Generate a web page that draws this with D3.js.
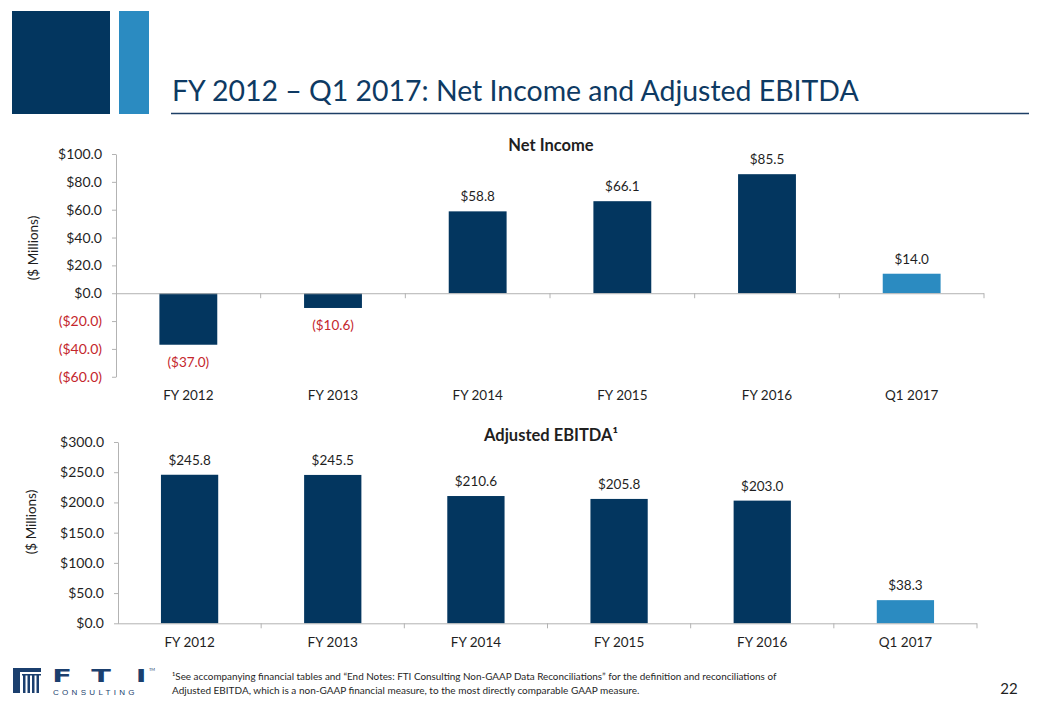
<!DOCTYPE html>
<html><head><meta charset="utf-8">
<script src="https://cdn.jsdelivr.net/npm/d3@7"></script>
<style>
html,body{margin:0;padding:0;background:#fff;}
svg{display:block;font-family:Lato,"Open Sans",sans-serif;}
</style></head>
<body>
<svg id="c" width="1040" height="720"></svg>
<script>
const categories = ["FY 2012","FY 2013","FY 2014","FY 2015","FY 2016","Q1 2017"];
const netIncome = [-37.0,-10.6,58.8,66.1,85.5,14.0];
const ebitda = [245.8,245.5,210.6,205.8,203.0,38.3];
const niTicks = [-60,-40,-20,0,20,40,60,80,100];
const ebitdaTicks = [0,50,100,150,200,250,300];
const highlightCategory = "Q1 2017";
const titleText = "FY 2012 \u2013 Q1 2017: Net Income and Adjusted EBITDA";
const footnoteLines = [
  "\u00b9See accompanying  financial tables and \u201cEnd Notes: FTI Consulting Non-GAAP Data Reconciliations\u201d for the definition and reconciliations of",
  "Adjusted EBITDA, which is a non-GAAP financial measure, to the most directly comparable GAAP measure."
];

const NAVY = "#03365f", LIGHT = "#2b8bc1", RED = "#c4262c", TXT = "#1f1f1f", AXIS = "#b3b3b3";
const svg = d3.select("#c");

function fitWidth(sel, w){
  const cur = parseFloat(sel.attr("font-size"));
  const len = sel.node().getComputedTextLength();
  sel.attr("font-size", cur * w / len);
}

// Header blocks
svg.append("rect").attr("x",12).attr("y",11).attr("width",98).attr("height",103).attr("fill",NAVY);
svg.append("rect").attr("x",119).attr("y",11).attr("width",30).attr("height",103).attr("fill",LIGHT);
const t = svg.append("text").attr("x",172).attr("y",101).attr("font-size",29).attr("fill","#0e3a63").text(titleText);
fitWidth(t, 687);
svg.append("line").attr("x1",171).attr("x2",1029).attr("y1",113.5).attr("y2",113.5).attr("stroke","#1d3f66").attr("stroke-width",1.6);

function fmt(v){
  const s = "$" + Math.abs(v).toFixed(1);
  return v < 0 ? "(" + s + ")" : s;
}

function drawChart(opt){
  const x = d3.scaleBand().domain(categories).range(opt.xRange).paddingInner(0.6).paddingOuter(0.3);
  const y = d3.scaleLinear().domain(opt.domain).range(opt.yRange);
  const g = svg.append("g");
  g.append("text").attr("x",551).attr("y",opt.titleY).attr("text-anchor","middle")
    .attr("font-size",16.5).attr("font-weight","bold").attr("fill",TXT).text(opt.title);
  const ya = g.append("g").attr("transform",`translate(${opt.xRange[0]},0)`)
    .call(d3.axisLeft(y).tickValues(opt.ticks).tickSize(4).tickSizeOuter(0).tickPadding(10).tickFormat(fmt));
  ya.select(".domain").attr("stroke",AXIS);
  ya.selectAll(".tick line").attr("stroke",AXIS);
  ya.selectAll(".tick text").attr("font-size",14).attr("font-family","Lato")
    .attr("fill", d => d < 0 ? RED : TXT);
  g.append("text").attr("transform",`translate(${opt.yLabelX},${opt.yLabelY}) rotate(-90)`)
    .attr("text-anchor","middle").attr("font-size",13.5).attr("fill",TXT).text("($ Millions)");
  const data = categories.map((c,i)=>({c, v: opt.values[i]}));
  g.selectAll("rect.bar").data(data).join("rect").attr("class","bar")
    .attr("x", d => x(d.c)).attr("width", x.bandwidth())
    .attr("y", d => y(Math.max(0,d.v))).attr("height", d => Math.abs(y(d.v)-y(0)))
    .attr("fill", d => d.c === highlightCategory ? LIGHT : NAVY);
  const y0 = y(0);
  g.append("line").attr("x1",opt.xRange[0]).attr("x2",opt.xRange[1]).attr("y1",y0+0.5).attr("y2",y0+0.5).attr("stroke",AXIS);
  const bounds = categories.map(c => x(c) - x.step()*x.paddingInner()/2).concat([opt.xRange[1]]);
  g.selectAll("line.xt").data(bounds.slice(1)).join("line").attr("class","xt")
    .attr("x1",d=>d).attr("x2",d=>d).attr("y1",y0).attr("y2",y0+5).attr("stroke",AXIS);
  g.selectAll("text.cat").data(categories).join("text").attr("class","cat")
    .attr("x", c => x(c) + x.bandwidth()/2).attr("y", opt.catY).attr("text-anchor","middle")
    .attr("font-size",13.5).attr("fill",TXT).text(c => c);
  g.selectAll("text.val").data(data).join("text").attr("class","val")
    .attr("x", d => x(d.c) + x.bandwidth()/2)
    .attr("y", d => d.v < 0 ? y(d.v) + 22 : y(d.v) - 10)
    .attr("text-anchor","middle").attr("font-size",13.5)
    .attr("fill", d => d.v < 0 ? RED : TXT).text(d => fmt(d.v));
}

drawChart({title:"Net Income", titleY:151, values:netIncome, domain:[-60,100], ticks:niTicks,
  xRange:[116,984], yRange:[376.75,154], yLabelX:38, yLabelY:248, catY:400});
drawChart({title:"Adjusted EBITDA\u00b9", titleY:441, values:ebitda, domain:[0,300], ticks:ebitdaTicks,
  xRange:[118,977], yRange:[623.3,442], yLabelX:36, yLabelY:522, catY:647});

// Logo
const lg = svg.append("g").attr("fill","#1b3f6e");
lg.append("rect").attr("x",13).attr("y",668).attr("width",28).attr("height",4);
lg.append("rect").attr("x",13).attr("y",668).attr("width",7).attr("height",25);
[23,27.5,32,36.5].forEach(px => lg.append("rect").attr("x",px).attr("y",675).attr("width",2.5).attr("height",18));
lg.append("rect").attr("x",22).attr("y",674).attr("width",19).attr("height",1.5);
["F","T","I"].forEach((ch,i) => lg.append("text")
  .attr("transform",`translate(${[62,101,141][i]},682) scale(1.6,1)`)
  .attr("text-anchor","middle").attr("font-size",18).attr("font-family","DejaVu Sans").attr("font-weight","bold").text(ch));
lg.append("text").attr("x",149).attr("y",671).attr("font-size",4).text("TM");
lg.append("text").attr("x",53).attr("y",695).attr("font-size",8).attr("letter-spacing",3.3).attr("font-family","Liberation Sans").text("CONSULTING");

// Footnote
footnoteLines.forEach((l,i) => {
  const ft = svg.append("text").attr("x",172).attr("y",680 + i*14).attr("font-size",10).attr("fill",TXT).text(l);
  if(i===0) fitWidth(ft, 605);
});
svg.append("text").attr("x",1009).attr("y",694).attr("text-anchor","middle").attr("font-size",15).attr("fill",TXT).text("22");
</script>
</body></html>
